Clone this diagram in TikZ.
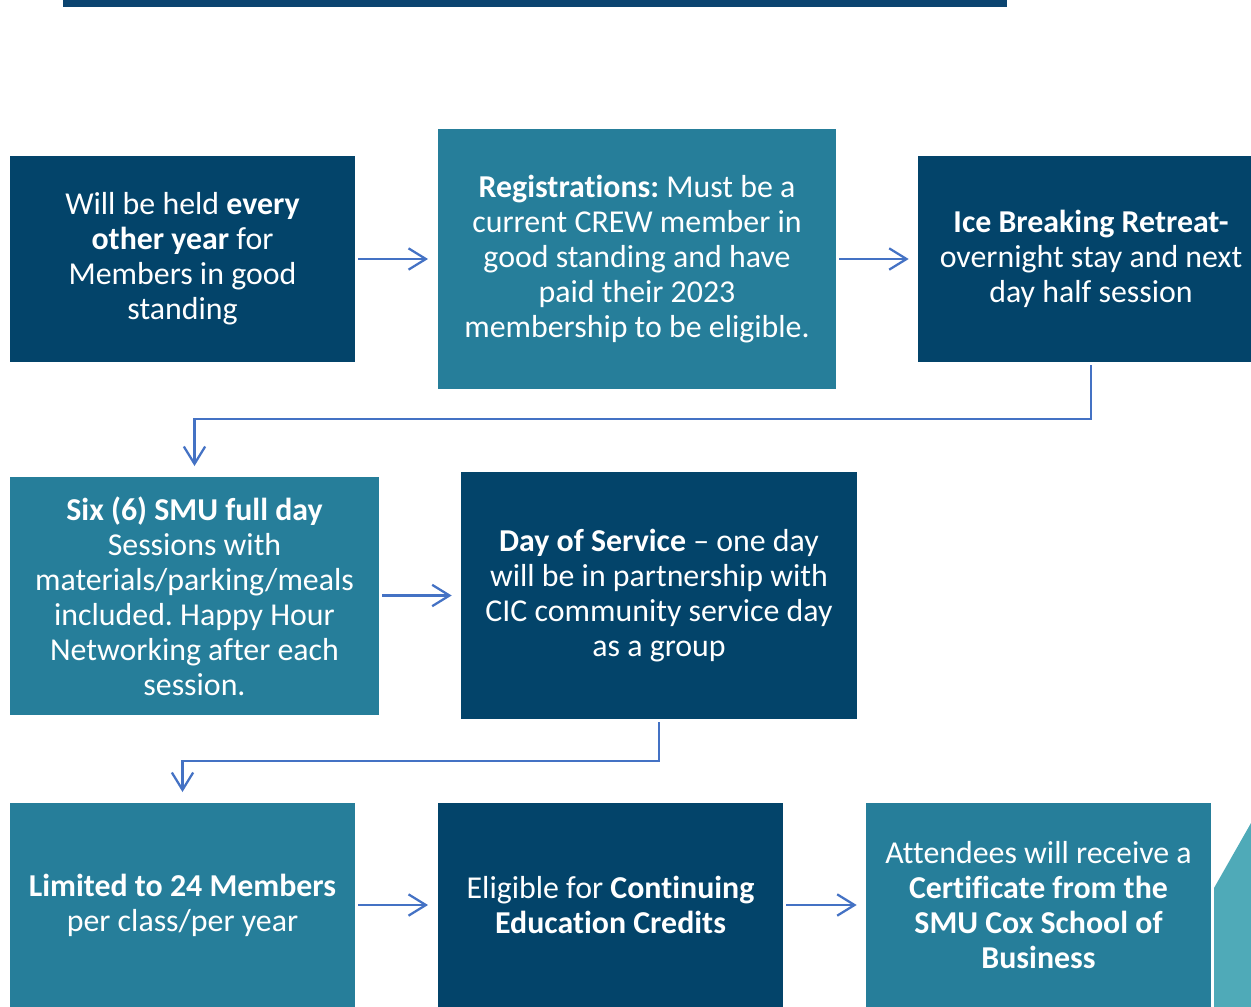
\documentclass[tikz,border=0pt]{standalone}
\usepackage{fontspec}
\setmainfont{Carlito}[Ligatures=NoCommon]
\frenchspacing
\usetikzlibrary{arrows.meta}
\definecolor{crewnavy}{HTML}{03446A}
\definecolor{crewbar}{HTML}{0B4470}
\definecolor{crewteal}{HTML}{267E9A}
\definecolor{crewaqua}{HTML}{4FAAB8}
\definecolor{linkblue}{HTML}{4472C4}

\begin{document}
\begin{tikzpicture}[x=0.75pt, y=-0.75pt,
		stage/.style={inner sep=0pt, outer sep=0pt, align=center, text=white,
			font=\fontsize{23.9}{26.25}\selectfont},
		navybox/.style={stage, fill=crewnavy},
		tealbox/.style={stage, fill=crewteal},
		link/.style={draw=linkblue, line width=1.7pt,
			-{Straight Barb[length=13pt, width=16pt, line width=1.7pt]},
			shorten <=2.25pt}]
			%%%%% START %%%%%
			
			\useasboundingbox (0, 0) rectangle (1251, 1006);
			\clip (0, 0) rectangle (1251, 1006);
			
			\fill[crewbar] (63, -5) rectangle (1007, 7);
			
			% first row
			\node[navybox, minimum width=258.75pt, minimum height=154.5pt] (held) at (182.5, 259)
				{Will be held \textbf{every}\\ \textbf{other year} for\\ Members in good\\ standing};
			\node[tealbox, minimum width=298.5pt, minimum height=195pt] (reg) at (637, 259)
				{\textbf{Registrations:} Must be a\\ current CREW member in\\ good standing and have\\ paid their 2023\\ membership to be eligible.};
			\node[navybox, minimum width=259.5pt, minimum height=154.5pt] (retreat) at (1091, 259)
				{\textbf{Ice Breaking Retreat-}\\ overnight stay and next\\ day half session};
			
			% second row
			\node[tealbox, minimum width=276.75pt, minimum height=178.5pt] (smu) at (194.5, 596)
				{\textbf{Six (6) SMU full day}\\ Sessions with\\ materials/parking/meals\\ included. Happy Hour\\ Networking after each\\ session.};
			\node[navybox, minimum width=297pt, minimum height=185.25pt] (service) at (659, 595.5)
				{\textbf{Day of Service} – one day\\ will be in partnership with\\ CIC community service day\\ as a group};
			
			% third row
			\node[tealbox, minimum width=258.75pt, minimum height=153pt] (limit) at (182.5, 905)
				{\textbf{Limited to 24 Members}\\ per class/per year};
			\node[navybox, minimum width=258.75pt, minimum height=153pt] (credit) at (610.5, 905)
				{Eligible for \textbf{Continuing}\\ \textbf{Education Credits}};
			\node[tealbox, minimum width=258.75pt, minimum height=153pt] (cert) at (1038.5, 905)
				{Attendees will receive a\\ \textbf{Certificate from the}\\ \textbf{SMU Cox School of}\\ \textbf{Business}};
			
			\fill[crewaqua] (1214, 888) -- (1251, 823) -- (1260, 823) -- (1260, 1010) -- (1214, 1010) -- cycle;
			
			% connectors
			\draw[link, shorten >=7.5pt] (held.east) -- (reg.west);
			\draw[link, shorten >=7pt] (reg.east) -- (reg.east -| retreat.west);
			\draw[link, shorten >=8.25pt] (retreat.south) -- ++(0, 57) -| (smu.north);
			\draw[link, shorten >=7pt] (smu.east |- service.west) -- (service.west);
			\draw[link, shorten >=8.25pt] (service.south) -- ++(0, 42) -| (limit.north);
			\draw[link, shorten >=7.5pt] (limit.east) -- (credit.west);
			\draw[link, shorten >=7pt] (credit.east) -- (cert.west);
			
			%%%%% END %%%%%
		\end{tikzpicture}
\end{document}
